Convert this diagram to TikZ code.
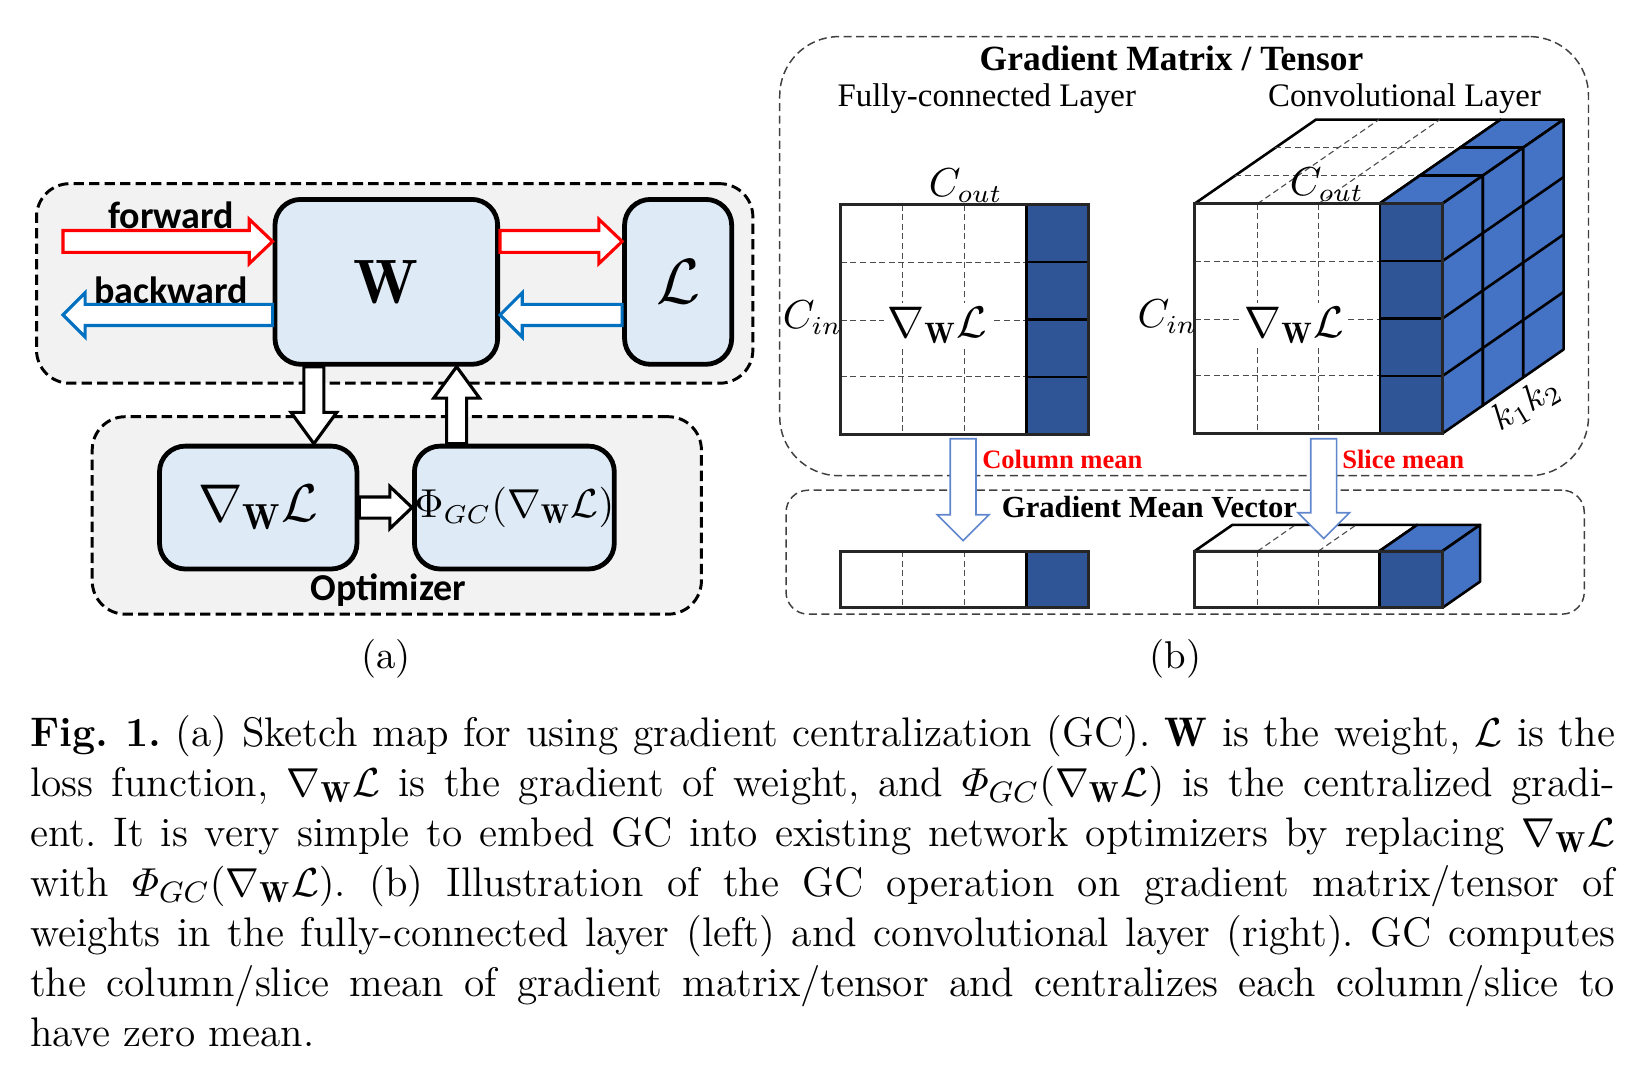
\documentclass[tikz,border=0pt]{standalone}
\usepackage{amsmath}
\usepackage{fontspec}
\newfontfamily\carlito{Carlito}
\newfontfamily\timesrm{Liberation Serif}
\usetikzlibrary{calc}
\definecolor{boxblue}{HTML}{DEEBF7}
\definecolor{panelgray}{HTML}{F2F2F2}
\definecolor{darkblue}{HTML}{2F5597}
\definecolor{lightblue}{HTML}{4472C4}
\definecolor{fwdred}{HTML}{FF0000}
\definecolor{bwdblue}{HTML}{0070C0}
\definecolor{framegray}{HTML}{262626}
\newcommand{\gradL}{\nabla_{\mathbf{W}}\mathcal{L}}
\tikzset{
  arrowshaft/.store in=\shaftw, arrowhead/.store in=\headw, arrowlen/.store in=\headlen,
  arrowshaft=3pt, arrowhead=6pt, arrowlen=6pt,
  hollow/.style={fill=white, line width=0.85pt, line join=miter},
  fwdarrow/.style={draw=fwdred, arrowshaft=2.95pt, arrowhead=6pt, arrowlen=6.3pt},
  bwdarrow/.style={draw=bwdblue, arrowshaft=2.85pt, arrowhead=6pt, arrowlen=6pt},
  optarrow/.style={draw=black, arrowshaft=2.7pt, arrowhead=6.2pt, arrowlen=8.5pt},
  meanarrow/.style={draw=lightblue!85, line width=0.45pt, arrowshaft=3.5pt, arrowhead=7pt, arrowlen=7pt},
  panel/.style={draw, fill=panelgray, dash pattern=on 2.8pt off 1.4pt, line width=0.8pt, rounded corners=9pt},
  bpanel/.style={draw=black!75, dash pattern=on 2.2pt off 1.2pt, line width=0.4pt, rounded corners=16pt},
  blk/.style={draw, fill=boxblue, line width=1.3pt, rounded corners=7pt},
  sanslbl/.style={inner sep=0pt, font={\fontsize{10.3}{12}\carlito\bfseries}},
  mathlbl/.style={inner sep=0pt, font=\fontsize{10.5}{12}\selectfont},
  gradlbl/.style={fill=white, inner sep=1pt, font=\fontsize{12}{14}\selectfont},
  meanlbl/.style={anchor=west, inner sep=0pt, text=fwdred, font={\fontsize{7.2}{9}\timesrm\bfseries}},
  griddash/.style={draw=black!70, dash pattern=on 1.6pt off 1pt, line width=0.3pt},
  matframe/.style={draw=framegray, line width=0.85pt},
  cubeedge/.style={draw=black, line width=0.7pt, line join=round},
}
\newcommand{\blockarrow}[3][]{%
  \begin{scope}[hollow,#1]
    \coordinate (ba-base) at ($(#3)!\headlen!(#2)$);
    \filldraw ($(#2)!\shaftw!90:(#3)$) -- ($(ba-base)!\shaftw!90:(#3)$) -- ($(ba-base)!\headw!90:(#3)$) -- (#3)
      -- ($(ba-base)!\headw!-90:(#3)$) -- ($(ba-base)!\shaftw!-90:(#3)$) -- ($(#2)!\shaftw!-90:(#3)$) -- cycle;
  \end{scope}}
\begin{document}
\begin{tikzpicture}[x=0.01cm, y=-0.01cm]
\useasboundingbox (0,0) rectangle (1568,1033);

\node[panel, minimum width=6.82cm, minimum height=1.9cm] (netpanel) at (376,270) {};
\node[panel, minimum width=5.8cm, minimum height=1.88cm] (optpanel) at (378,491) {};
\node[blk, minimum width=2.12cm, minimum height=1.57cm, font=\fontsize{17}{20}\selectfont] (W) at (368,268.5) {$\mathbf{W}$};
\node[blk, minimum width=1.02cm, minimum height=1.57cm, font=\fontsize{18}{20}\selectfont] (L) at (646,268.5) {$\mathcal{L}$};
\node[blk, minimum width=1.88cm, minimum height=1.17cm, font=\fontsize{14}{16}\selectfont] (grad) at (246,483.5) {$\gradL$};
\node[blk, minimum width=1.88cm, minimum height=1.17cm, inner sep=0pt, font=\fontsize{10.5}{12}\selectfont] (phi) at (490,483.5) {$\Phi_{GC}(\gradL)$};
\node[sanslbl] (fwdlabel) at (163,205) {forward};
\node[sanslbl] (bwdlabel) at (163,277) {backward};
\node[sanslbl] (optlabel) at (370,562) {Optimizer};

\coordinate (fwdin) at (60,230);
\coordinate (bwdout) at (60,300);
\coordinate (gradin) at (299,0);
\coordinate (phiout) at (435,0);
\blockarrow[fwdarrow]{fwdin}{fwdin -| W.west}
\blockarrow[fwdarrow]{W.east |- fwdin}{L.west |- fwdin}
\blockarrow[bwdarrow]{W.west |- bwdout}{bwdout}
\blockarrow[bwdarrow]{L.west |- bwdout}{W.east |- bwdout}
\blockarrow[optarrow]{gradin |- W.south}{gradin |- grad.north}
\blockarrow[optarrow]{phiout |- phi.north}{phiout |- W.south}
\blockarrow[optarrow, arrowshaft=2.85pt, arrowhead=5.7pt, arrowlen=6pt]{grad.east}{phi.west}
\node[font=\fontsize{10.5}{12}\selectfont] (alabel) at (368,628) {(a)};

\node[bpanel, minimum width=7.7cm, minimum height=4.18cm] (matpanel) at (1128,244) {};
\node[bpanel, rounded corners=6pt, minimum width=7.6cm, minimum height=1.18cm] (vecpanel) at (1129,526) {};
\node[font={\fontsize{9.6}{11}\timesrm\bfseries}] (gmtitle) at (1116,56) {Gradient Matrix / Tensor};
\node[font={\fontsize{8.9}{11}\timesrm}] (fclabel) at (940,94) {Fully-connected Layer};
\node[font={\fontsize{8.9}{11}\timesrm}] (convlabel) at (1338,94) {Convolutional Layer};

\fill[white] (801,195) rectangle (978,414);
\foreach \x in {860,919} \draw[griddash] (\x,195) -- (\x,414);
\foreach \y in {250,305,359} \draw[griddash] (801,\y) -- (978,\y);
\foreach \i in {0,...,3} \draw[cubeedge, fill=darkblue] (978,195+\i*54.75) rectangle +(59,54.75);
\draw[matframe] (801,195) rectangle (1037,414);
\node[mathlbl] (fcout) at (920,177) {$C_{out}$};
\node[mathlbl] (fcin) at (774,303) {$C_{in}$};
\node[gradlbl] (fcgrad) at (893,310) {$\gradL$};

\draw[cubeedge, fill=white] (1138,194) -- (1314,194) -- (1429.5,114) -- (1253.5,114) -- cycle;
\foreach \x in {1198,1256} \draw[griddash] (\x,194) -- +(115.5,-80);
\foreach \d in {1,2} \draw[griddash] (1138+\d*38.5,194-\d*26.7) -- (1314+\d*38.5,194-\d*26.7);
\foreach \d in {2,1,0} {
  \begin{scope}[shift={(\d*38.5,-\d*26.7)}]
    \draw[cubeedge, fill=lightblue] (1314,194) -- (1374,194) -- (1412.5,167.3) -- (1352.5,167.3) -- cycle;
    \draw[cubeedge, fill=lightblue] (1374,194) -- (1412.5,167.3) -- (1412.5,386.3) -- (1374,413) -- cycle;
    \foreach \i in {1,2,3} \draw[cubeedge] (1374,194+\i*54.75) -- +(38.5,-26.7);
    \foreach \i in {0,...,3} \draw[cubeedge, fill=darkblue] (1314,194+\i*54.75) rectangle +(60,54.75);
  \end{scope}
}
\fill[white] (1138,194) rectangle (1314,413);
\foreach \x in {1198,1256} \draw[griddash] (\x,194) -- (\x,413);
\foreach \y in {249,304,358} \draw[griddash] (1138,\y) -- (1314,\y);
\draw[matframe] (1138,194) rectangle (1374,413);
\node[mathlbl] (convout) at (1264,176) {$C_{out}$};
\node[mathlbl] (convin) at (1112,302) {$C_{in}$};
\node[gradlbl] (convgrad) at (1233,310) {$\gradL$};
\node[rotate=31, inner sep=0pt, font=\fontsize{10}{12}\selectfont] (kernel) at (1454,385) {$k_1k_2$};

\fill[white] (801,525) rectangle (978,579);
\foreach \x in {860,919} \draw[griddash] (\x,525) -- (\x,579);
\draw[cubeedge, fill=darkblue] (978,525) rectangle (1037,579);
\draw[matframe] (801,525) rectangle (1037,579);

\draw[cubeedge, fill=white] (1138,525) -- (1314,525) -- (1350,500) -- (1174,500) -- cycle;
\foreach \x in {1198,1256} \draw[griddash] (\x,525) -- +(36,-25);
\draw[cubeedge, fill=lightblue] (1314,525) -- (1374,525) -- (1410,500) -- (1350,500) -- cycle;
\draw[cubeedge, fill=lightblue] (1374,525) -- (1410,500) -- (1410,554) -- (1374,579) -- cycle;
\fill[white] (1138,525) rectangle (1314,579);
\foreach \x in {1198,1256} \draw[griddash] (\x,525) -- (\x,579);
\draw[cubeedge, fill=darkblue] (1314,525) rectangle (1374,579);
\draw[matframe] (1138,525) rectangle (1374,579);

\node[font={\fontsize{8.3}{10}\timesrm\bfseries}] (veclabel) at (1095,483) {Gradient Mean Vector};
\coordinate (colmean) at (917.5,418);
\coordinate (colmeantip) at (917.5,515);
\coordinate (slicemean) at (1261,418);
\coordinate (slicemeantip) at (1261,513);
\blockarrow[meanarrow]{colmean}{colmeantip}
\blockarrow[meanarrow]{slicemean}{slicemeantip}
\node[meanlbl] (collabel) at (935,438) {Column mean};
\node[meanlbl] (slicelabel) at (1278,438) {Slice mean};
\node[font=\fontsize{10.5}{12}\selectfont] (blabel) at (1120,628) {(b)};

\node[anchor=base west, inner sep=0pt, text width=15.09cm, align=justify, font=\fontsize{11.2}{13.55}\selectfont\frenchspacing] (caption) at (28,711)
  {\textbf{Fig.~1.} (a) Sketch map for using gradient centralization (GC). $\mathbf{W}$ is the weight, $\mathcal{L}$ is the\linebreak
  loss function, $\gradL$ is the gradient of weight, and $\varPhi_{GC}(\gradL)$ is the centralized gradi-\linebreak
  ent. It is very simple to embed GC into existing network optimizers by replacing $\gradL$\linebreak
  with $\varPhi_{GC}(\gradL)$. (b) Illustration of the GC operation on gradient matrix/tensor of\linebreak
  weights in the fully-connected layer (left) and convolutional layer (right). GC computes\linebreak
  the column/slice mean of gradient matrix/tensor and centralizes each column/slice to\linebreak
  have zero mean.};
\end{tikzpicture}
\end{document}
